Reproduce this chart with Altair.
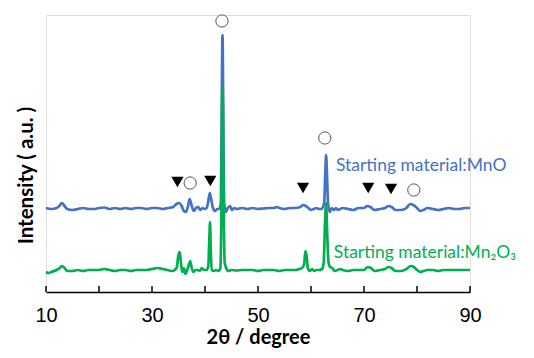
import altair as alt
import pandas as pd

# MnO starting material (blue), intensity in arbitrary units
mno_x = [10.0, 11, 12, 12.5, 13.0, 13.5, 14, 15, 16, 17, 18, 19, 20, 21, 22, 23, 24, 25, 26, 27, 28, 29, 30,
         31, 32, 33, 34, 34.6, 35.1, 35.6, 36.0, 36.4, 36.8, 37.1, 37.5, 37.9, 38.3, 38.7, 39.1, 39.5, 39.9,
         40.3, 40.6, 40.9, 41.2, 41.5, 41.9, 42.3, 42.7, 43.0, 43.15, 43.3, 43.45, 43.6, 43.9, 44.3, 44.7,
         45.1, 45.5, 46, 47, 48, 49, 50, 51, 52, 53, 53.5, 54, 55, 56, 57, 58, 58.5, 59, 59.5, 60, 60.5, 61,
         61.5, 62, 62.5, 62.7, 62.85, 63.0, 63.2, 63.5, 63.9, 64.3, 64.7, 65.1, 65.5, 66, 67, 68, 69, 70,
         70.6, 71.2, 72, 73, 74, 74.6, 75.2, 76, 77, 78, 78.7, 79.3, 80, 80.6, 81.2, 82, 83, 84, 85, 86, 87,
         88, 89, 90]
mno_y = [84, 83, 84, 86, 89, 86, 83, 82, 83, 84, 83, 83, 84, 84.5, 83, 84, 83, 84, 83, 84, 84, 83, 84,
         84, 83, 84, 85, 88, 89, 86, 81, 80, 86, 93, 86, 81, 84, 85, 82, 84, 83,
         84, 90, 99, 92, 84, 81, 83, 83, 90, 180, 257, 180, 90, 80, 84, 86,
         82, 84, 83, 84, 83, 84, 83, 83.5, 84, 84, 85, 84, 83, 84, 84, 85, 87, 86, 84, 82, 83, 84,
         83, 83, 90, 120, 137, 120, 90, 80, 84, 82, 84, 82, 83, 84, 83, 82, 84, 84,
         86, 85, 82, 83, 84, 86, 85, 82, 82, 84, 88, 87, 84, 81, 82, 84, 83, 82, 83, 84, 83,
         83, 84, 84]

# Mn2O3 starting material (green)
mn2o3_x = [10, 10.5, 11, 12, 12.6, 13.0, 13.5, 14, 15, 16, 17, 18, 19, 20, 21, 22, 23, 24, 25, 26, 27, 28,
           29, 30, 31, 32, 33, 33.8, 34.3, 34.7, 34.95, 35.2, 35.45, 35.7, 36.0, 36.3, 36.7, 37.0, 37.2,
           37.5, 37.8, 38.2, 38.6, 39.0, 39.4, 39.8, 40.2, 40.6, 40.8, 40.95, 41.1, 41.3, 41.7, 42.1, 42.5,
           42.9, 43.1, 43.3, 43.5, 43.7, 44.0, 44.4, 45, 46, 47, 48, 49, 50, 51, 52, 53, 54, 55, 56, 57,
           57.8, 58.3, 58.7, 58.95, 59.2, 59.4, 59.8, 60.2, 60.6, 61, 61.5, 62.1, 62.4, 62.65, 62.85, 63.05,
           63.3, 63.6, 64, 64.5, 65.0, 65.5, 66, 67, 68, 69, 70, 70.7, 71.3, 72, 73, 74, 74.6, 75.2, 76, 77,
           78, 78.8, 79.4, 80, 80.6, 81.2, 82, 83, 84, 85, 86, 87, 88, 89, 90]
mn2o3_y = [20, 19, 20, 22, 24, 26, 24, 21, 21, 22, 21, 22, 22, 22, 23, 22, 21, 22, 22, 21, 22, 22,
           22, 23, 24, 23, 22, 21, 22, 25, 36, 40, 30, 20, 24, 18, 23, 28, 31,
           24, 20, 22, 22, 21, 24, 22, 22, 25, 50, 70, 40, 22, 21, 22, 21,
           24, 80, 205, 100, 30, 24, 21, 22, 21.5, 22, 22, 22, 21, 22, 22, 22, 21, 22, 22, 22,
           23, 24, 28, 41, 35, 24, 21, 23, 21, 22, 22, 23, 30, 70, 89, 60,
           30, 25, 24, 21, 22, 23, 22, 21, 22, 22, 22, 25, 24, 21, 22, 23, 25, 24, 21, 21,
           23, 26, 25, 22, 20, 21, 22, 22, 21, 22, 22, 22, 22, 22, 22]

# Peak markers
circle_x = [43.2, 62.6, 37.2, 79.4]
circle_y = [271, 154, 109, 102]
tri_x = [34.8, 41.0, 58.5, 70.8, 75.1]
tri_y = [110, 111, 104, 104, 103]

tick_values = [10, 20, 30, 40, 50, 60, 70, 80, 90]
label_values = [10, 30, 50, 70, 90]

labels_text = ["Starting material:MnO", "Starting material:Mn₂O₃"]
labels_x = [64.7, 64.3]
labels_y = [126, 39]
labels_color = ["#4472C4", "#00B050"]

blue = pd.DataFrame({"x": mno_x, "y": mno_y})
green = pd.DataFrame({"x": mn2o3_x, "y": mn2o3_y})
circles = pd.DataFrame({"x": circle_x, "y": circle_y})
tris = pd.DataFrame({"x": tri_x, "y": tri_y})
ticks = pd.DataFrame({"x": tick_values, "y0": [0] * len(tick_values), "y1": [6] * len(tick_values)})
labels = pd.DataFrame({"t": labels_text, "x": labels_x, "y": labels_y, "c": labels_color})

xscale = alt.Scale(domain=[10, 90], nice=False, zero=False)
yscale = alt.Scale(domain=[0, 277], nice=False, zero=False)

xaxis = alt.Axis(values=label_values, ticks=False, grid=False, domainColor="black", domainWidth=1.5,
                 labelFont="Liberation Sans", labelFontSize=20, labelColor="black", labelPadding=13,
                 labelFlush=False,
                 title="2θ / degree", titleFont="Lato", titleFontSize=20, titleFontWeight="bold",
                 titleColor="black", titlePadding=2)
yaxis = alt.Axis(domain=False, ticks=False, labels=False, grid=False,
                 title="Intensity ( a.u. )", titleFont="Lato", titleFontSize=20.5, titleFontWeight="bold",
                 titleColor="black", titlePadding=10, titleY=160)

line_blue = alt.Chart(blue).mark_line(color="#4472C4", strokeWidth=2.7, interpolate="monotone").encode(
    x=alt.X("x:Q", scale=xscale, axis=xaxis),
    y=alt.Y("y:Q", scale=yscale, axis=yaxis),
)
line_green = alt.Chart(green).mark_line(color="#00B050", strokeWidth=2.7, interpolate="monotone").encode(
    x=alt.X("x:Q", scale=xscale),
    y=alt.Y("y:Q", scale=yscale),
)
tick_rules = alt.Chart(ticks).mark_rule(color="black", strokeWidth=1.5).encode(
    x=alt.X("x:Q", scale=xscale), y=alt.Y("y0:Q", scale=yscale), y2="y1:Q"
)
circ = alt.Chart(circles).mark_point(shape="circle", size=150, filled=False, color="#555555",
                                     strokeWidth=1, fill="white", fillOpacity=1).encode(
    x=alt.X("x:Q", scale=xscale), y=alt.Y("y:Q", scale=yscale)
)
tri = alt.Chart(tris).mark_point(shape="triangle-down", size=150, filled=True, color="black",
                                 opacity=1).encode(
    x=alt.X("x:Q", scale=xscale), y=alt.Y("y:Q", scale=yscale)
)
txt = alt.Chart(labels).mark_text(align="left", baseline="middle", font="Lato", fontSize=17.5).encode(
    x=alt.X("x:Q", scale=xscale), y=alt.Y("y:Q", scale=yscale), text="t:N",
    color=alt.Color("c:N", scale=None)
)

chart = alt.layer(line_blue, line_green, tick_rules, circ, tri, txt).properties(
    width=424, height=277,
    autosize=alt.AutoSizeParams(type="none"),
    padding={"left": 38, "top": 7, "right": 56, "bottom": 58},
).configure_view(stroke=None).configure(background="white")

chart.save("out.html", embed_options={"renderer": "svg", "actions": False})
